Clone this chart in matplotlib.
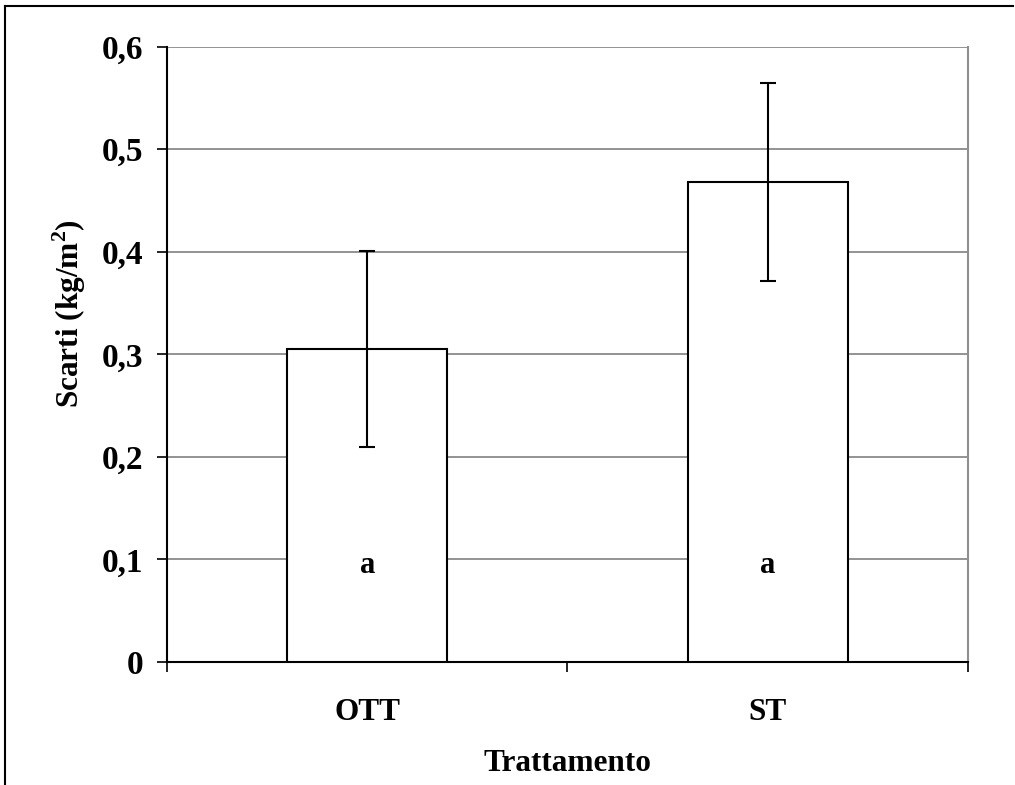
import numpy as np
import matplotlib.pyplot as plt
from matplotlib.lines import Line2D

plt.rcParams['font.family'] = ['Liberation Serif', 'DejaVu Serif']
plt.rcParams['font.weight'] = 'bold'
plt.rcParams['mathtext.fontset'] = 'custom'
plt.rcParams['mathtext.rm'] = 'Liberation Serif:bold'
plt.rcParams['mathtext.bf'] = 'Liberation Serif:bold'

# dati: scarti medi per trattamento, con deviazione standard
trattamenti = ['OTT', 'ST']
scarti = [0.305, 0.468]
dev_std = [0.0955, 0.0965]
lettere = ['a', 'a']
y_ticks = [0, 0.1, 0.2, 0.3, 0.4, 0.5, 0.6]
y_tick_labels = ['0', '0,1', '0,2', '0,3', '0,4', '0,5', '0,6']

fig = plt.figure(figsize=(10.15, 7.85), dpi=100)
ax = fig.add_axes([0.1645, 0.1567, 0.7892, 0.7838])

x = np.arange(len(trattamenti))
ax.bar(x, scarti, width=0.4, color='white', edgecolor='black', linewidth=1.5, zorder=3)
ax.errorbar(x, scarti, yerr=dev_std, fmt='none', ecolor='black', elinewidth=1.5,
            capsize=6, capthick=1.5, zorder=4)

for xi, lett in zip(x, lettere):
    ax.text(xi, 0.094, lett, ha='center', va='center', fontsize=22, fontweight='bold', zorder=5)

ax.set_xlim(-0.5, 1.5)
ax.set_ylim(0, 0.6)
ax.set_yticks(y_ticks)
ax.set_yticklabels(y_tick_labels)
ax.yaxis.grid(True, color='#808080', linewidth=1.2, zorder=0)
ax.set_axisbelow(True)

# tacche tra le categorie, etichette al centro
ax.set_xticks([-0.5, 0.5, 1.5])
ax.set_xticklabels([])
ax.set_xticks(x, minor=True)
ax.set_xticklabels(trattamenti, minor=True)
ax.tick_params(axis='x', which='major', direction='out', length=7, width=1.2, color='black')
ax.tick_params(axis='x', which='minor', length=0, pad=26, labelsize=22.5)
ax.tick_params(axis='y', direction='out', length=7, width=1.2, pad=10, labelsize=24)

for s in ['left', 'bottom']:
    ax.spines[s].set_color('black')
    ax.spines[s].set_linewidth(1.5)
ax.spines['top'].set_visible(False)
ax.spines['right'].set_color('#909090')
ax.spines['right'].set_linewidth(1.5)

ax.set_xlabel('Trattamento', fontsize=22.5, fontweight='bold', labelpad=16)
ax.set_ylabel('Scarti (kg/m$^{\\mathbf{2}}$)', fontsize=22.5, fontweight='bold')
ax.yaxis.set_label_coords(-0.099, 0.567)

# cornice esterna (solo lati sinistro e superiore)
fig.add_artist(Line2D([0.005, 0.005], [0.0, 0.9925], color='black', linewidth=1.5,
                      transform=fig.transFigure))
fig.add_artist(Line2D([0.005, 0.998], [0.9925, 0.9925], color='black', linewidth=1.5,
                      transform=fig.transFigure))

fig.savefig('out.png', dpi=100)
